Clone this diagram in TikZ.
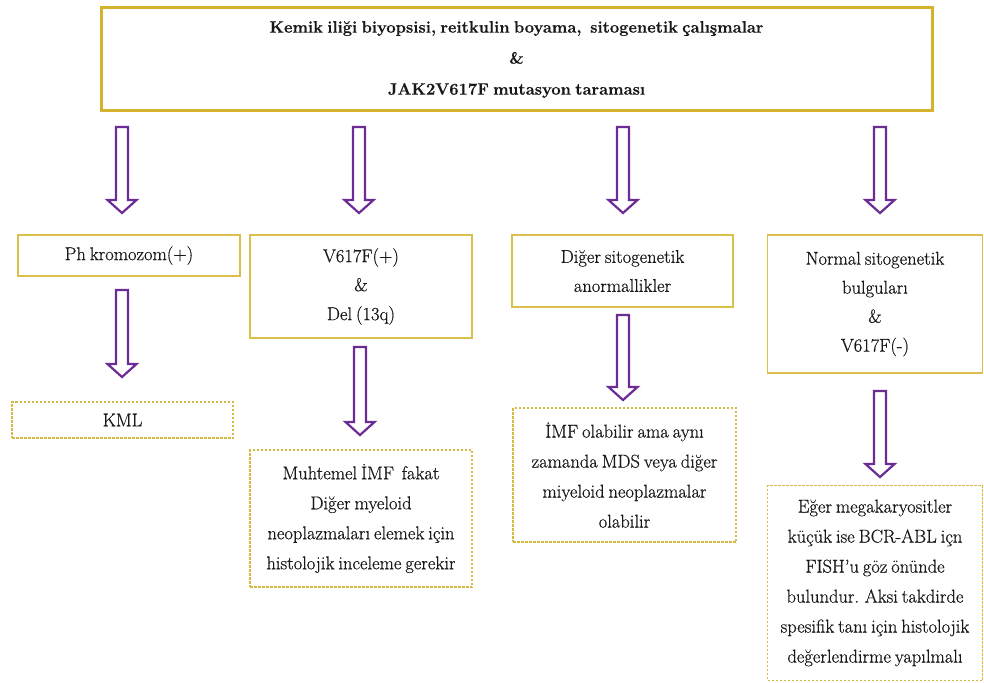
\documentclass[tikz,border=0pt]{standalone}
\usepackage{fontspec}
\setmainfont{Latin Modern Roman}[WordSpace=0.7, FakeBold=0.6]
\usetikzlibrary{calc}

\definecolor{framegold}{RGB}{212,178,46}
\definecolor{boxgold}{RGB}{218,192,72}
\definecolor{dashgold}{RGB}{212,186,66}
\definecolor{arrowpurple}{RGB}{108,44,150}
\definecolor{inktext}{RGB}{25,25,25}

\tikzset{
  headbox/.style={draw=framegold, line width=3pt, fill=white, inner sep=0pt, text=inktext,
    align=center, font=\fontsize{16.5}{31}\selectfont\bfseries},
  resultbox/.style={draw=boxgold, line width=1.5pt, fill=white, inner sep=0pt, text=inktext,
    align=center, font=\fontsize{18.5}{29}\selectfont},
  notebox/.style={draw=dashgold, line width=1.2pt, dash pattern=on 2.5pt off 1.5pt,
    fill=white, inner sep=0pt, text=inktext, align=center, font=\fontsize{18.5}{30}\selectfont},
  hollowarrow/.style={draw=arrowpurple, line width=2.2pt, fill=white, line join=miter},
}

% hollow block arrow pointing down, from tail coordinate #1 to tip coordinate #2
\newcommand\hollowdown[2]{%
  \draw[hollowarrow] let \p1=(#1), \p2=(#2) in
    (\x1-6pt,\y1) -- (\x1+6pt,\y1) -- (\x1+6pt,\y2+13pt) -- (\x1+14.5pt,\y2+13pt)
    -- (\x1,\y2) -- (\x1-14.5pt,\y2+13pt) -- (\x1-6pt,\y2+13pt) -- cycle;}

\begin{document}
\begin{tikzpicture}[x=1pt,y=-1pt]
\useasboundingbox (0,0) rectangle (984,682);
\fill[white] (0,0) rectangle (984,682);

% top box
\node[headbox, minimum width=831, minimum height=103] (top) at (516.5,59.5)
  {Kemik iliği biyopsisi, reitkulin boyama,\ \ sitogenetik çalışmalar\\ \&\\ JAK2V617F mutasyon taraması};

% second row
\node[resultbox, minimum width=222, minimum height=41] (ph) at (129,255.5) {Ph kromozom(+)};
\node[resultbox, minimum width=222, minimum height=103] (jak) at (361,286.5) {V617F(+)\\ \&\\ Del (13q)};
\node[resultbox, minimum width=221, minimum height=72] (other) at (622.5,271) {Diğer sitogenetik\\ anormallikler};
\node[resultbox, minimum width=215, minimum height=138] (normal) at (875,304) {Normal sitogenetik\\ bulguları\\ \&\\ V617F(-)};

% third row
\node[notebox, minimum width=221, minimum height=36] (kml) at (122.5,420) {KML};
\node[notebox, minimum width=222, minimum height=137] (imf) at (361,518.5)
  {Muhtemel İMF\ \ fakat\\ Diğer myeloid\\ neoplazmaları elemek için\\ histolojik inceleme gerekir};
\node[notebox, minimum width=223, minimum height=134] (mds) at (624.5,475)
  {İMF olabilir ama aynı\\ zamanda MDS veya diğer\\ miyeloid neoplazmalar\\ olabilir};
\node[notebox, minimum width=215, minimum height=195] (fish) at (875,583)
  {Eğer megakaryositler\\ küçük ise BCR-ABL içn\\ FISH’u göz önünde\\ bulundur. Aksi takdirde\\ spesifik tanı için histolojik\\ değerlendirme yapılmalı};

% arrow end points
\coordinate (t1) at (122,127); \coordinate (h1) at (122,213);
\coordinate (t2) at (359,127); \coordinate (h2) at (359,213);
\coordinate (t3) at (623,127); \coordinate (h3) at (623,213);
\coordinate (t4) at (880,127); \coordinate (h4) at (880,213);
\coordinate (u1) at (122,290); \coordinate (k1) at (122,377);
\coordinate (u2) at (360,347); \coordinate (k2) at (360,435);
\coordinate (u3) at (623,315); \coordinate (k3) at (623,400);
\coordinate (u4) at (880,391); \coordinate (k4) at (880,477);

\hollowdown{t1}{h1}
\hollowdown{t2}{h2}
\hollowdown{t3}{h3}
\hollowdown{t4}{h4}
\hollowdown{u1}{k1}
\hollowdown{u2}{k2}
\hollowdown{u3}{k3}
\hollowdown{u4}{k4}
\end{tikzpicture}
\end{document}
